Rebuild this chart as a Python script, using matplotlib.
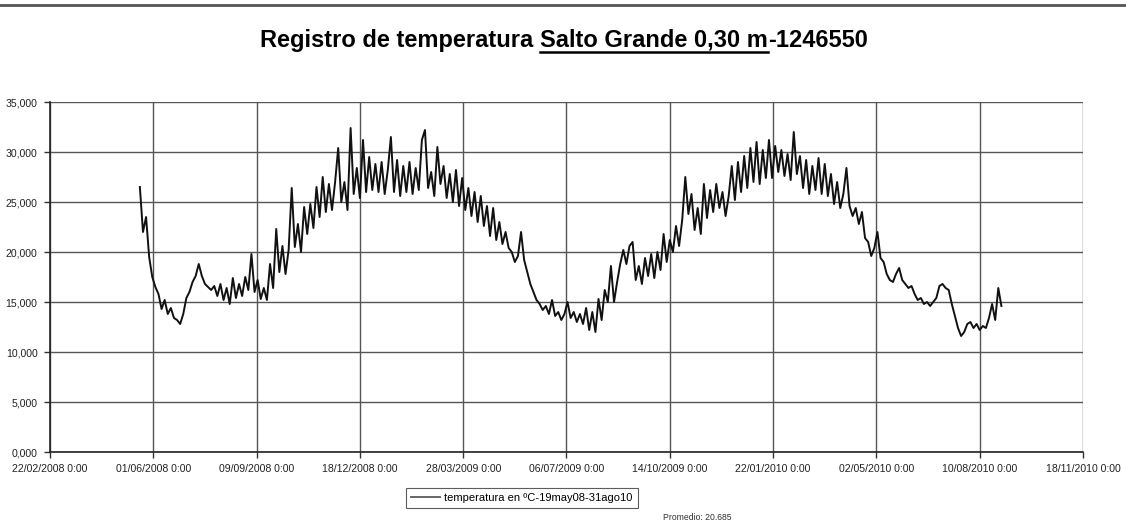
import numpy as np
import pandas as pd
import matplotlib
matplotlib.use("Agg")
from matplotlib import pyplot as plt
import matplotlib.dates as mdates
from matplotlib.lines import Line2D
from matplotlib.ticker import FuncFormatter, MultipleLocator

# datos: una lectura cada 3 dias desde el 19/05/2008
inicio = "2008-05-19"
paso = "3D"
temperatura = [
    26.5, 22.0, 23.5, 19.5, 17.5, 16.5, 15.8, 14.3, 15.2, 13.8,
    14.4, 13.4, 13.2, 12.8, 13.8, 15.4, 16.0, 17.0, 17.6, 18.8,
    17.6, 16.8, 16.5, 16.2, 16.6, 15.6, 16.8, 15.2, 16.4, 14.8,
    17.4, 15.4, 16.8, 15.6, 17.5, 16.2, 19.8, 16.0, 17.2, 15.3,
    16.4, 15.2, 18.8, 16.4, 22.3, 18.0, 20.6, 17.8, 20.2, 26.4,
    20.5, 22.8, 20.0, 24.5, 21.8, 24.8, 22.4, 26.5, 23.5, 27.5,
    24.0, 26.8, 24.2, 27.0, 30.4, 25.0, 27.0, 24.2, 32.4, 25.8,
    28.4, 25.4, 31.2, 26.0, 29.5, 26.2, 28.8, 26.0, 29.0, 25.8,
    28.2, 31.5, 26.0, 29.2, 25.6, 28.6, 26.0, 29.0, 25.8, 28.4,
    26.2, 31.2, 32.2, 26.4, 28.0, 25.6, 30.5, 26.8, 28.6, 25.4,
    27.8, 25.0, 28.2, 24.6, 27.4, 24.2, 26.4, 23.6, 26.0, 23.0,
    25.6, 22.6, 24.6, 21.6, 24.4, 21.2, 23.0, 20.8, 22.0, 20.4,
    20.0, 19.0, 19.6, 22.0, 19.2, 18.0, 16.8, 16.0, 15.2, 14.8,
    14.2, 14.6, 13.8, 15.2, 13.6, 14.0, 13.2, 13.8, 15.0, 13.4,
    14.0, 13.0, 13.8, 12.8, 14.4, 12.2, 14.0, 12.0, 15.3, 13.2,
    16.2, 15.0, 18.6, 15.0, 17.0, 18.8, 20.2, 18.8, 20.6, 21.0,
    17.2, 18.6, 16.8, 19.4, 17.6, 19.8, 17.4, 20.0, 18.2, 21.8,
    19.0, 21.2, 20.0, 22.6, 20.6, 23.2, 27.5, 23.8, 25.8, 22.2,
    24.4, 21.8, 26.8, 23.4, 26.2, 24.0, 26.8, 24.4, 26.0, 23.6,
    25.6, 28.6, 25.2, 29.0, 26.0, 29.6, 26.4, 30.4, 27.0, 31.0,
    26.8, 30.2, 27.4, 31.2, 27.4, 30.6, 28.0, 30.2, 27.6, 29.8,
    27.2, 32.0, 27.8, 29.6, 26.4, 29.2, 25.8, 28.6, 26.2, 29.4,
    25.8, 28.8, 25.6, 27.8, 24.8, 27.0, 24.4, 25.8, 28.4, 24.6,
    23.6, 24.4, 22.8, 24.0, 21.4, 21.0, 19.6, 20.4, 22.0, 19.4,
    19.0, 17.8, 17.2, 17.0, 17.8, 18.4, 17.2, 16.8, 16.4, 16.6,
    15.8, 15.2, 15.4, 14.8, 15.0, 14.6, 15.0, 15.4, 16.6, 16.8,
    16.4, 16.2, 14.8, 13.6, 12.4, 11.6, 12.0, 12.8, 13.0, 12.4,
    12.8, 12.2, 12.6, 12.4, 13.4, 14.8, 13.2, 16.4, 14.6,
]
fechas = pd.date_range(inicio, periods=len(temperatura), freq=paso)

eje_inicio = "2008-02-22"
eje_fin = "2010-11-18"
ticks_x = pd.date_range(eje_inicio, eje_fin, freq="100D")

titulo = ["Registro de temperatura ", "Salto Grande 0,30 m", "-1246550"]
leyenda = "temperatura en ºC-19may08-31ago10"
promedio = "Promedio: 20.685"

plt.rcParams["font.family"] = ["Liberation Sans", "DejaVu Sans"]

fig = plt.figure(figsize=(11.26, 5.29), dpi=100)
ax = fig.add_axes([50/1126, 1-452/529, 1033/1126, 350/529])

ax.plot(fechas, temperatura, color="#111111", lw=1.4, label=leyenda)

ax.set_xlim(pd.Timestamp(eje_inicio), pd.Timestamp(eje_fin))
ax.set_ylim(0, 35)
ax.set_xticks(ticks_x)
ax.xaxis.set_major_formatter(mdates.DateFormatter("%d/%m/%Y 0:00"))
ax.yaxis.set_major_locator(MultipleLocator(5))
ax.yaxis.set_major_formatter(FuncFormatter(lambda v, p: f"{v:.3f}".replace(".", ",")))
ax.tick_params(axis="both", labelsize=7.6, direction="out", length=4, width=1,
               color="#333333", labelcolor="#222222", pad=5)
ax.grid(True, color="#555555", lw=1)
for s in ["top", "right"]:
    ax.spines[s].set_visible(False)
for s in ["left", "bottom"]:
    ax.spines[s].set_color("#222222")
    ax.spines[s].set_linewidth(1.2)

# linea superior de la pagina
fig.add_artist(Line2D([0, 1], [1-5/529, 1-5/529], transform=fig.transFigure,
                      color="#555555", lw=2))

# titulo con parte subrayada
fig.canvas.draw()
r = fig.canvas.get_renderer()
partes = []
for t in titulo:
    tx = fig.text(0, 1-40/529, t, fontsize=17, fontweight="bold", va="center", ha="left")
    partes.append(tx)
anchos = [tx.get_window_extent(r).width for tx in partes]
x = 564 - sum(anchos)/2
for tx, w in zip(partes, anchos):
    tx.set_x(x/1126)
    if tx.get_text() == titulo[1]:
        fig.add_artist(Line2D([x/1126, (x+w)/1126], [1-52/529, 1-52/529],
                              transform=fig.transFigure, color="black", lw=1.8))
    x += w

leg = ax.legend(loc="center", bbox_to_anchor=(522/1126, 1-498/529),
                bbox_transform=fig.transFigure, fontsize=8, frameon=True,
                fancybox=False, edgecolor="#333333", handlelength=2.6,
                borderpad=0.45, handletextpad=0.4)
leg.get_lines()[0].set_color("#666666")
leg.get_frame().set_linewidth(0.8)

fig.text(697/1126, 1-518/529, promedio, fontsize=6.2, ha="center", va="center", color="#333333")

fig.savefig("out.png", dpi=100)
